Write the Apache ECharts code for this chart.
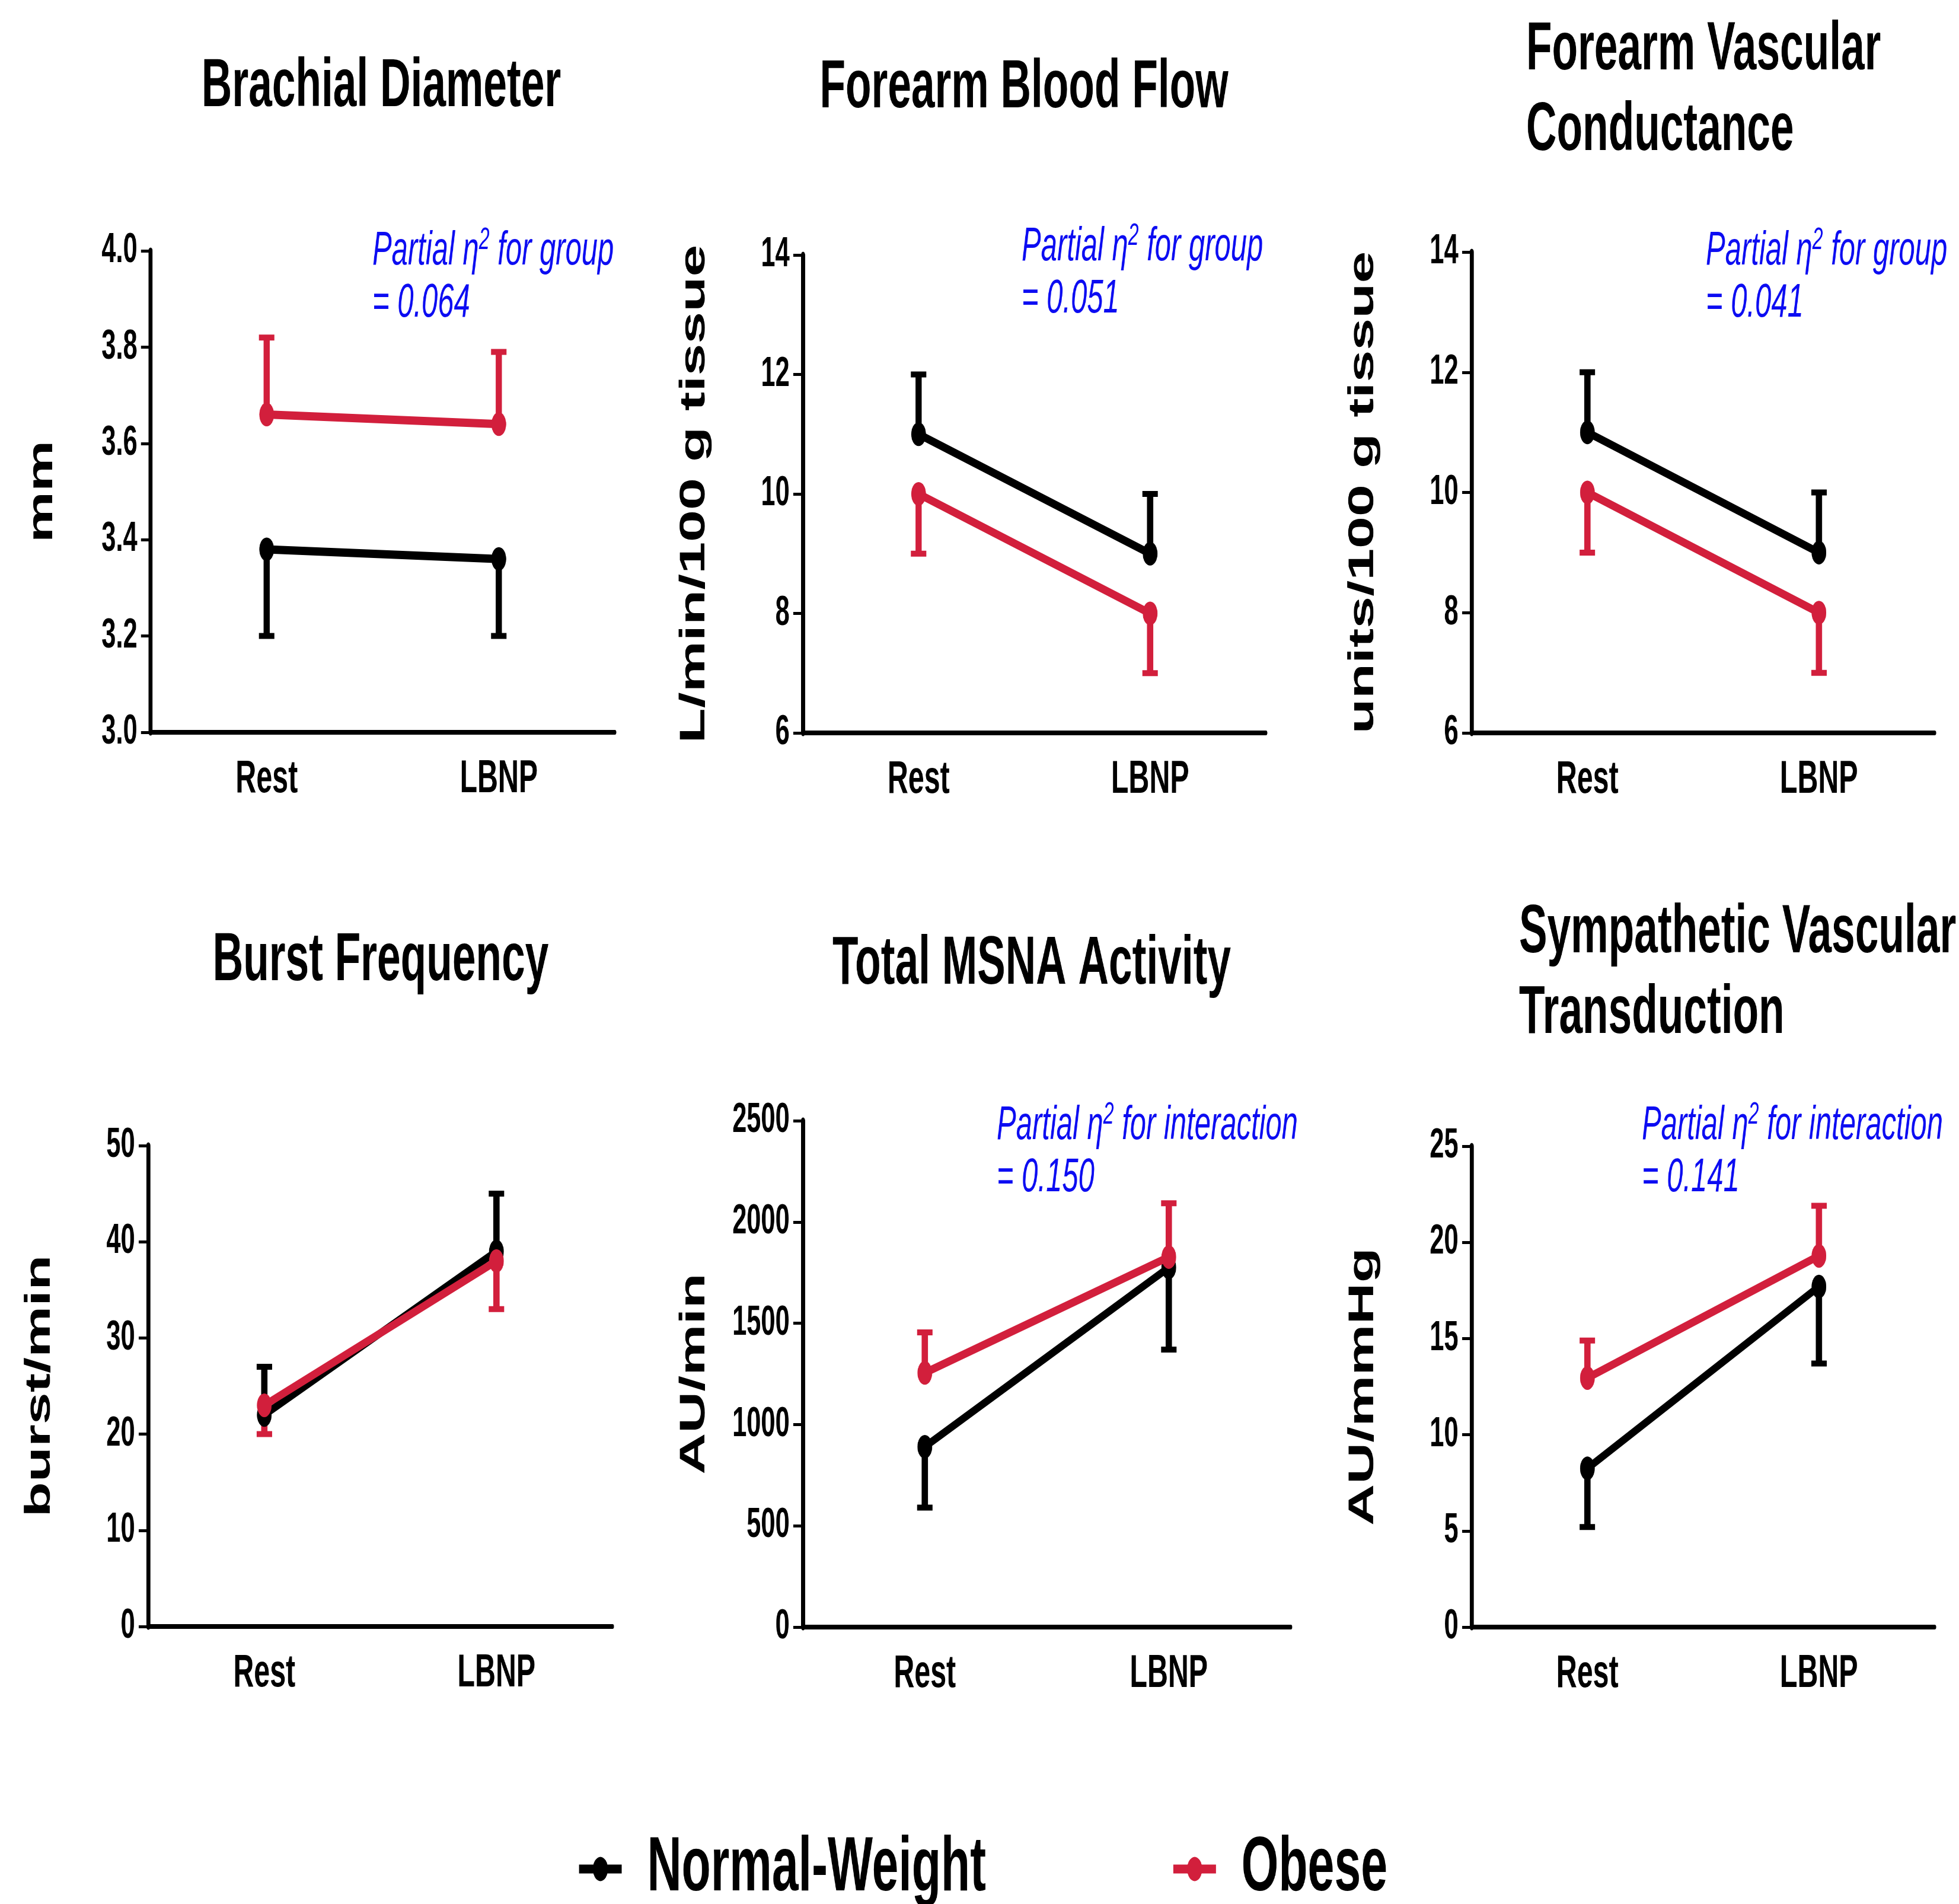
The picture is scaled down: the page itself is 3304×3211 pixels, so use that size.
<!DOCTYPE html>
<html>
<head>
<meta charset="utf-8">
<script src="https://cdn.jsdelivr.net/npm/echarts@6/dist/echarts.min.js"></script>
<style>
html, body { margin: 0; padding: 0; overflow: hidden; background: #fff; }
#main { height: 3211px; transform-origin: 0 0; }
</style>
</head>
<body>
<div id="main"></div>
<script>
// the original figure is squeezed sideways, so draw wide and compress
var S = 0.62;
var FONT = "'Liberation Sans', Arial, sans-serif";
var RED = '#d21f3c';
var BLUE = '#0c0cf2';

var categories = ['Rest', 'LBNP'];
var groups = ['Normal-Weight', 'Obese'];

// Brachial Diameter
var diamTicks = [3.0, 3.2, 3.4, 3.6, 3.8, 4.0];
var diamNormal = [3.38, 3.36], diamNormalBar = [3.20, 3.20];
var diamObese = [3.66, 3.64], diamObeseBar = [3.82, 3.79];
// Forearm Blood Flow
var fbfTicks = [6, 8, 10, 12, 14];
var fbfNormal = [11, 9], fbfNormalBar = [12, 10];
var fbfObese = [10, 8], fbfObeseBar = [9, 7];
// Forearm Vascular Conductance
var fvcTicks = [6, 8, 10, 12, 14];
var fvcNormal = [11, 9], fvcNormalBar = [12, 10];
var fvcObese = [10, 8], fvcObeseBar = [9, 7];
// Burst Frequency
var bfTicks = [0, 10, 20, 30, 40, 50];
var bfNormal = [22, 39], bfNormalBar = [27, 45];
var bfObese = [23, 38], bfObeseBar = [20, 33];
// Total MSNA Activity
var msnaTicks = [0, 500, 1000, 1500, 2000, 2500];
var msnaNormal = [890, 1775], msnaNormalBar = [590, 1370];
var msnaObese = [1255, 1827], msnaObeseBar = [1455, 2092];
// Sympathetic Vascular Transduction
var svtTicks = [0, 5, 10, 15, 20, 25];
var svtNormal = [8.25, 17.7], svtNormalBar = [5.2, 13.7];
var svtObese = [12.95, 19.3], svtObeseBar = [14.9, 21.9];

var panels = [
	{title: 'Brachial Diameter', yName: 'mm', ticks: diamTicks, dec: 1,
		normal: diamNormal, normalBar: diamNormalBar, obese: diamObese, obeseBar: diamObeseBar,
		note: 'group', eta: '0.064'},
	{title: 'Forearm Blood Flow', yName: 'L/min/100 g tissue', ticks: fbfTicks, dec: 0,
		normal: fbfNormal, normalBar: fbfNormalBar, obese: fbfObese, obeseBar: fbfObeseBar,
		note: 'group', eta: '0.051'},
	{title: 'Forearm Vascular\nConductance', yName: 'units/100 g tissue', ticks: fvcTicks, dec: 0,
		normal: fvcNormal, normalBar: fvcNormalBar, obese: fvcObese, obeseBar: fvcObeseBar,
		note: 'group', eta: '0.041'},
	{title: 'Burst Frequency', yName: 'burst/min', ticks: bfTicks, dec: 0,
		normal: bfNormal, normalBar: bfNormalBar, obese: bfObese, obeseBar: bfObeseBar},
	{title: 'Total MSNA Activity', yName: 'AU/min', ticks: msnaTicks, dec: 0,
		normal: msnaNormal, normalBar: msnaNormalBar, obese: msnaObese, obeseBar: msnaObeseBar,
		note: 'interaction', eta: '0.150'},
	{title: 'Sympathetic Vascular\nTransduction', yName: 'AU/mmHg', ticks: svtTicks, dec: 0,
		normal: svtNormal, normalBar: svtNormalBar, obese: svtObese, obeseBar: svtObeseBar,
		note: 'interaction', eta: '0.141'}
];

// page positions in output pixels: [axisLeft, axisRight, top, bottom]
var layout = [
	{box: [254, 1037, 423, 1235], title: [643, 147, 'center'], note: [628, 446]},
	{box: [1354, 2135, 430, 1236], title: [1727, 149, 'center'], note: [1723, 439]},
	{box: [2482, 3263, 425, 1236], title: [2574, 85, 'left'], note: [2877, 446]},
	{box: [250, 1033, 1932, 2743], title: [642, 1621, 'center']},
	{box: [1354, 2177, 1890, 2744], title: [1740, 1627, 'center'], note: [1681, 1921]},
	{box: [2482, 3263, 1933, 2744], title: [2562, 1574, 'left'], note: [2769, 1921]}
];

function X(px) { return px / S; }

var W = Math.round(3304 / S);
var dom = document.getElementById('main');
dom.style.width = W + 'px';
dom.style.transform = 'scaleX(' + S + ')';

function errRender(params, api) {
	var i = api.value(0);
	var p0 = api.coord([i, api.value(1)]);
	var p1 = api.coord([i, api.value(2)]);
	var c = api.visual('color');
	return {
		type: 'group',
		children: [
			{type: 'line', shape: {x1: p0[0], y1: p0[1], x2: p1[0], y2: p1[1]},
				style: {stroke: c, lineWidth: 17}},
			{type: 'line', shape: {x1: p1[0] - 21, y1: p1[1], x2: p1[0] + 21, y2: p1[1]},
				style: {stroke: c, lineWidth: 10}}
		]
	};
}

var grids = [], xAxes = [], yAxes = [], series = [], graphics = [];

panels.forEach(function(p, i) {
	var L = layout[i];
	grids.push({
		left: X(L.box[0]), width: X(L.box[1] - L.box[0]),
		top: L.box[2], height: L.box[3] - L.box[2]
	});
	xAxes.push({
		type: 'category', gridIndex: i, data: categories,
		axisLine: {onZero: false, lineStyle: {color: '#000', width: 8}},
		axisTick: {alignWithLabel: true, length: 28, lineStyle: {color: '#000', width: 6}},
		axisLabel: {fontSize: 78, fontWeight: 'bold', fontFamily: FONT, color: '#000', margin: 40},
		splitLine: {show: false}
	});
	var step = Math.round((p.ticks[1] - p.ticks[0]) * 1e6) / 1e6;
	yAxes.push({
		type: 'value', gridIndex: i,
		min: p.ticks[0], max: p.ticks[p.ticks.length - 1], interval: step,
		name: p.yName, nameLocation: 'middle', nameRotate: 90, nameGap: 246,
		nameTextStyle: {fontSize: 97, fontWeight: 'bold', fontFamily: FONT, color: '#000'},
		axisLine: {show: true, lineStyle: {color: '#000', width: 11}},
		axisTick: {show: true, length: 26, lineStyle: {color: '#000', width: 5}},
		axisLabel: {
			fontSize: 70, fontWeight: 'bold', fontFamily: FONT, color: '#000', margin: 36,
			formatter: (function(d) { return function(v) { return v.toFixed(d); }; })(p.dec)
		},
		splitLine: {show: false}
	});

	var sets = [
		{name: groups[0], color: '#000', vals: p.normal, bar: p.normalBar},
		{name: groups[1], color: RED, vals: p.obese, bar: p.obeseBar}
	];
	sets.forEach(function(s) {
		series.push({
			type: 'custom', name: s.name + ' SEM', xAxisIndex: i, yAxisIndex: i,
			renderItem: errRender, itemStyle: {color: s.color},
			encode: {x: 0, y: [1, 2]}, z: 2, silent: true,
			data: categories.map(function(c, j) { return [j, s.vals[j], s.bar[j]]; })
		});
	});
	sets.forEach(function(s, k) {
		series.push({
			type: 'line', name: s.name, xAxisIndex: i, yAxisIndex: i,
			data: s.vals, symbol: 'circle', symbolSize: 40,
			lineStyle: {color: s.color, width: 14}, itemStyle: {color: s.color},
			z: 3 + k, silent: true
		});
	});

	var lh = 136;
	graphics.push({
		type: 'text', x: X(L.title[0]), y: L.title[1] - lh / 2,
		style: {
			text: p.title, fill: '#000',
			fontSize: 115, fontWeight: 'bold', fontFamily: FONT, lineHeight: lh,
			align: L.title[2], verticalAlign: 'top',
			textAlign: L.title[2], textVerticalAlign: 'top'
		}
	});

	if (p.note) {
		var fs = 79, nlh = 88;
		var tok = {fontSize: fs, fontStyle: 'italic', fontFamily: FONT, fill: BLUE, color: BLUE, lineHeight: nlh};
		graphics.push({
			type: 'text', x: X(L.note[0]), y: L.note[1] - 0.358 * fs - nlh / 2 + 6,
			style: {
				text: '{t|Partial }{t|η}{s|2}{t| for ' + p.note + '}\n{t|= ' + p.eta + '}',
				align: 'left', verticalAlign: 'top', textAlign: 'left', textVerticalAlign: 'top',
				fill: BLUE,
				rich: {
					t: tok,
					s: {fontSize: 52, fontStyle: 'italic', fontFamily: FONT, fill: BLUE, color: BLUE,
						lineHeight: 30, verticalAlign: 'top'}
				}
			}
		});
	}
});

var chart = echarts.init(dom, null, {renderer: 'canvas'});
chart.setOption({
	animation: false,
	backgroundColor: '#fff',
	grid: grids,
	xAxis: xAxes,
	yAxis: yAxes,
	series: series,
	graphic: graphics,
	legend: {
		data: groups, left: X(972), top: 3077, padding: 0,
		itemWidth: 116, itemHeight: 51, itemGap: 502, selectedMode: false,
		lineStyle: {width: 15},
		textStyle: {fontSize: 130, fontWeight: 'bold', fontFamily: FONT, color: '#000',
			padding: [0, 0, 0, 64], lineHeight: 150}
	}
});
</script>
</body>
</html>
